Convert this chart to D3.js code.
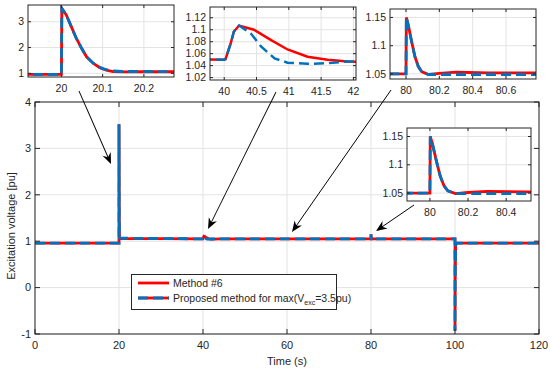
<!DOCTYPE html>
<html>
<head>
<meta charset="utf-8">
<script src="https://cdn.jsdelivr.net/npm/d3@7"></script>
<style>
  body { margin: 0; background: #fff; }
  text { font-family: "Liberation Sans", Arial, sans-serif; fill: #262626; }
</style>
</head>
<body>
<svg width="550" height="372"></svg>
<script>
// Method #6 (red, solid)
const timeM6 = [0, 20, 20.001, 20.012, 20.024, 20.036, 20.049, 20.061, 20.077, 20.093, 20.109, 20.125, 20.15, 20.2, 20.3,
  40, 40.02, 40.1, 40.15, 40.23, 40.46, 40.72, 40.98, 41.29, 41.6, 41.91, 42.3, 44,
  80, 80.002, 80.014, 80.034, 80.054, 80.074, 80.094, 80.134, 80.2, 80.3, 80.5, 80.8,
  100, 100.002, 100.05, 100.15, 100.3, 120]
const voltM6 = [0.96, 0.96, 3.52, 3.26, 2.81, 2.36, 1.97, 1.64, 1.39, 1.22, 1.12, 1.07, 1.055, 1.06, 1.06,
  1.05, 1.051, 1.077, 1.097, 1.107, 1.1, 1.083, 1.067, 1.055, 1.05, 1.047, 1.046, 1.05,
  1.05, 1.15, 1.136, 1.107, 1.08, 1.063, 1.054, 1.049, 1.051, 1.053, 1.052, 1.052,
  1.05, -0.93, 0.2, 0.9, 0.96, 0.96]

// Proposed method (blue, dashed)
const timeProp = [0, 20, 20.001, 20.012, 20.024, 20.036, 20.049, 20.061, 20.077, 20.093, 20.109, 20.125, 20.15, 20.2, 20.3,
  40, 40.02, 40.1, 40.15, 40.23, 40.41, 40.57, 40.78, 40.98, 41.29, 41.6, 41.91, 42.3, 44,
  80, 80.002, 80.014, 80.034, 80.054, 80.074, 80.094, 80.134, 80.3, 80.8,
  100, 100.002, 100.05, 100.15, 100.3, 120]
const voltProp = [0.96, 0.96, 3.52, 3.26, 2.81, 2.36, 1.97, 1.64, 1.39, 1.23, 1.14, 1.09, 1.07, 1.07, 1.065,
  1.05, 1.051, 1.077, 1.097, 1.107, 1.094, 1.072, 1.052, 1.045, 1.043, 1.044, 1.047, 1.047, 1.05,
  1.05, 1.15, 1.136, 1.107, 1.08, 1.063, 1.054, 1.049, 1.049, 1.049,
  1.05, -0.93, 0.2, 0.9, 0.96, 0.96]

const mainXTicks = [0, 20, 40, 60, 80, 100, 120]
const mainYTicks = [-1, 0, 1, 2, 3, 4]
const inset1XTicks = [20, 20.1, 20.2], inset1YTicks = [1, 2, 3]
const inset2XTicks = [40, 40.5, 41, 41.5, 42], inset2YTicks = [1.02, 1.04, 1.06, 1.08, 1.1, 1.12]
const inset3XTicks = [80, 80.2, 80.4, 80.6], inset3YTicks = [1.05, 1.1, 1.15]
const inset4XTicks = [80, 80.2, 80.4], inset4YTicks = [1.05, 1.1, 1.15]

const seriesM6 = timeM6.map((t, i) => [t, voltM6[i]])
const seriesProp = timeProp.map((t, i) => [t, voltProp[i]])

const RED = '#ff0000', BLUE = '#0072bd', AXIS = '#262626', GRID = '#e3e3e3'
const DASH = '10,5'
const fmt = d => String(+d.toFixed(3))

let svg = d3.select('svg')
let clipId = 0

function drawPanel(box, xDom, yDom, xTicks, yTicks, fontSize, lw) {
  let x = d3.scaleLinear().domain(xDom).range([box.x0, box.x1])
  let y = d3.scaleLinear().domain(yDom).range([box.y1, box.y0])
  let g = svg.append('g')

  g.append('rect')
    .attr('x', box.x0).attr('y', box.y0)
    .attr('width', box.x1 - box.x0).attr('height', box.y1 - box.y0)
    .attr('fill', '#fff')

  // grid
  g.selectAll('.gx').data(xTicks).enter().append('line')
    .attr('x1', d => x(d)).attr('x2', d => x(d))
    .attr('y1', box.y0).attr('y2', box.y1)
    .attr('stroke', GRID).attr('stroke-width', 1)
  g.selectAll('.gy').data(yTicks).enter().append('line')
    .attr('y1', d => y(d)).attr('y2', d => y(d))
    .attr('x1', box.x0).attr('x2', box.x1)
    .attr('stroke', GRID).attr('stroke-width', 1)

  // curves
  let id = 'clip' + (clipId++)
  svg.append('clipPath').attr('id', id).append('rect')
    .attr('x', box.x0).attr('y', box.y0)
    .attr('width', box.x1 - box.x0).attr('height', box.y1 - box.y0)
  let line = d3.line().x(d => x(d[0])).y(d => y(d[1]))
  let curves = g.append('g').attr('clip-path', `url(#${id})`)
  curves.append('path').datum(seriesM6).attr('d', line)
    .attr('fill', 'none').attr('stroke', RED).attr('stroke-width', lw)
  curves.append('path').datum(seriesProp).attr('d', line)
    .attr('fill', 'none').attr('stroke', BLUE).attr('stroke-width', lw)
    .attr('stroke-dasharray', DASH)

  // axes (box with inward ticks on all sides)
  let tl = fontSize > 10.5 ? 5 : 3
  let ax = g.append('g').attr('stroke', AXIS).attr('stroke-width', 1)
  ax.append('rect')
    .attr('x', box.x0).attr('y', box.y0)
    .attr('width', box.x1 - box.x0).attr('height', box.y1 - box.y0)
    .attr('fill', 'none')
  xTicks.forEach(d => {
    ax.append('line').attr('x1', x(d)).attr('x2', x(d)).attr('y1', box.y1).attr('y2', box.y1 - tl)
    ax.append('line').attr('x1', x(d)).attr('x2', x(d)).attr('y1', box.y0).attr('y2', box.y0 + tl)
  })
  yTicks.forEach(d => {
    ax.append('line').attr('y1', y(d)).attr('y2', y(d)).attr('x1', box.x0).attr('x2', box.x0 + tl)
    ax.append('line').attr('y1', y(d)).attr('y2', y(d)).attr('x1', box.x1).attr('x2', box.x1 - tl)
  })

  g.selectAll('.xl').data(xTicks).enter().append('text')
    .attr('x', d => x(d)).attr('y', box.y1 + fontSize + 4)
    .attr('text-anchor', 'middle').style('font-size', fontSize + 'px')
    .text(fmt)
  g.selectAll('.yl').data(yTicks).enter().append('text')
    .attr('x', box.x0 - 4).attr('y', d => y(d)).attr('dy', '0.35em')
    .attr('text-anchor', 'end').style('font-size', fontSize + 'px')
    .text(fmt)
  return {x, y, g}
}

// main axes
let main = drawPanel({x0: 35, x1: 539, y0: 102, y1: 334}, [0, 120], [-1, 4], mainXTicks, mainYTicks, 11, 2.8)

svg.append('text').attr('x', 287).attr('y', 365).attr('text-anchor', 'middle')
  .style('font-size', '11px').text('Time (s)')
svg.append('text').attr('transform', 'translate(15,226) rotate(-90)').attr('text-anchor', 'middle')
  .style('font-size', '11px').text('Excitation voltage [pu]')

// legend
let leg = svg.append('g')
leg.append('rect').attr('x', 131.5).attr('y', 274.5).attr('width', 205).attr('height', 35)
  .attr('fill', '#fff').attr('stroke', AXIS).attr('stroke-width', 1)
leg.append('line').attr('x1', 138).attr('x2', 169).attr('y1', 283).attr('y2', 283)
  .attr('stroke', RED).attr('stroke-width', 2.8)
leg.append('line').attr('x1', 138).attr('x2', 169).attr('y1', 298).attr('y2', 298)
  .attr('stroke', RED).attr('stroke-width', 2.8)
leg.append('line').attr('x1', 138).attr('x2', 169).attr('y1', 298).attr('y2', 298)
  .attr('stroke', BLUE).attr('stroke-width', 2.8).attr('stroke-dasharray', DASH)
leg.append('text').attr('x', 173).attr('y', 283).attr('dy', '0.35em').style('font-size', '10.5px').text('Method #6')
let t2 = leg.append('text').attr('x', 173).attr('y', 298).attr('dy', '0.35em').style('font-size', '10.5px')
t2.append('tspan').text('Proposed method for max(V')
t2.append('tspan').attr('dy', '3').style('font-size', '7px').text('exc')
t2.append('tspan').attr('dy', '-3').text('=3.5pu)')

// insets
drawPanel({x0: 28, x1: 174, y0: 5, y1: 77}, [19.919, 20.273], [0.857, 3.65], inset1XTicks, inset1YTicks, 10.5, 2.8)
drawPanel({x0: 210, x1: 356, y0: 7, y1: 80}, [39.78, 42.04], [1.016, 1.138], inset2XTicks, inset2YTicks, 10.5, 2.5)
drawPanel({x0: 390, x1: 536, y0: 9, y1: 79}, [79.904, 80.78], [1.041, 1.165], inset3XTicks, inset3YTicks, 10.5, 2.8)
drawPanel({x0: 407, x1: 531, y0: 128, y1: 201}, [79.88, 80.53], [1.036, 1.165], inset4XTicks, inset4YTicks, 10.5, 2.8)

// arrows
const arrows = [
  [[79, 91], [111, 164]],
  [[276, 92], [208, 229]],
  [[391, 90], [292, 232]],
  [[414, 205], [376, 231]]
]
arrows.forEach(([a, b]) => {
  let ang = Math.atan2(b[1] - a[1], b[0] - a[0]) * 180 / Math.PI
  let L = Math.hypot(b[0] - a[0], b[1] - a[1])
  let g = svg.append('g').attr('transform', `translate(${a[0]},${a[1]}) rotate(${ang})`)
  g.append('line').attr('x1', 0).attr('x2', L - 6).attr('y1', 0).attr('y2', 0)
    .attr('stroke', '#000').attr('stroke-width', 0.9)
  g.append('path').attr('d', `M${L},0 L${L - 11},-4.5 L${L - 7.5},0 L${L - 11},4.5 Z`).attr('fill', '#000')
})
</script>
</body>
</html>
